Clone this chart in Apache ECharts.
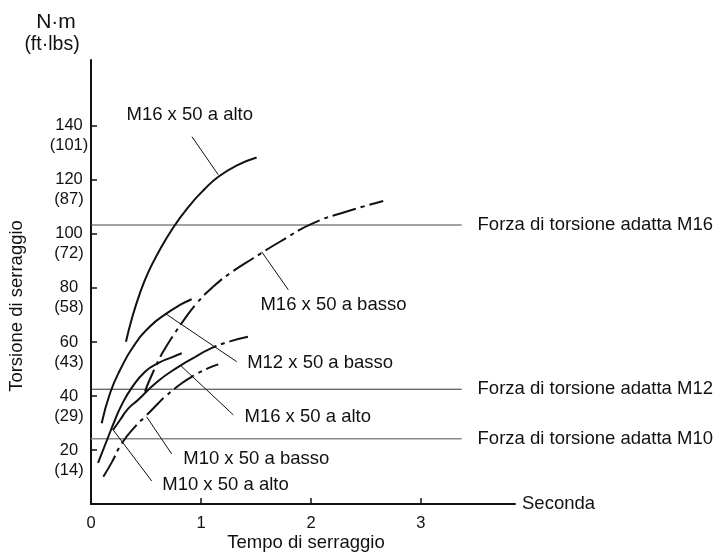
<!DOCTYPE html>
<html>
<head>
<meta charset="utf-8">
<script src="https://cdn.jsdelivr.net/npm/echarts@6/dist/echarts.min.js"></script>
<style>
html,body{margin:0;padding:0;background:#fff;}
#chart{width:717px;height:554px;}
</style>
</head>
<body>
<div id="chart"></div>
<script>
// ---- data (x: seconds, y: N·m) ----
const xTickValues = [1, 2, 3];
const xLabelValues = [0, 1, 2, 3];
const yTickValues = [20, 40, 60, 80, 100, 120, 140];
const yTickFtlbs = ['14', '29', '43', '58', '72', '87', '101'];

const curveM16AltoTop = [[0.318,60.1],[0.373,68.9],[0.445,78.1],[0.518,85.6],[0.6,92.2],[0.745,102.2],[0.9,110.7],[1.036,116.7],[1.155,121.1],[1.327,125.4],[1.506,128.3]];
const curveM16Basso = [[0.491,41.6],[0.521,44.8],[0.582,50.4],[0.627,54.3],[0.673,57.6],[0.748,62.4],[0.839,67.8],[0.961,74.3],[1.112,80.5],[1.264,85.4],[1.475,91.0],[1.718,97.1],[2.021,104.0],[2.325,108.3],[2.657,112.2]];
const curveM12Basso = [[0.097,29.9],[0.173,41.0],[0.264,49.6],[0.385,58.3],[0.536,65.7],[0.688,70.6],[0.809,73.7],[0.915,75.8]];
const curveM16AltoLowSolid = [[0.2,27.4],[0.264,31.1],[0.336,35.2],[0.427,38.5],[0.6,45.2],[0.791,50.7],[0.945,54.4]];
const curveM16AltoLowDash = [[0.945,54.4],[1.1,57.8],[1.264,60.2],[1.427,61.9]];
const curveM10Alto = [[0.064,15.2],[0.157,24.9],[0.218,31.1],[0.279,36.7],[0.37,43.0],[0.491,49.0],[0.612,52.2],[0.734,54.3],[0.825,55.8]];
const curveM10Basso = [[0.112,10.1],[0.19,15.5],[0.279,22.4],[0.415,29.3],[0.491,32.3],[0.612,37.3],[0.673,39.7],[0.825,44.7],[0.945,47.8],[1.066,50.3],[1.157,51.7]];

const refNames = ['Forza di torsione adatta M16', 'Forza di torsione adatta M12', 'Forza di torsione adatta M10'];
const refValues = [103.3, 42.5, 24.2];
const refEndX = 3.37;
const refLabelX = 3.51;

const curveLabelTexts = ['M16 x 50 a alto', 'M16 x 50 a basso', 'M12 x 50 a basso', 'M16 x 50 a alto', 'M10 x 50 a basso', 'M10 x 50 a alto'];
const curveLabelAnchors = [[0.318,144.1],[1.536,73.7],[1.415,52.3],[1.391,32.3],[0.834,16.6],[0.643,7.0]];
const leaderLines = [
  [[0.918,136.0],[1.157,121.9]],
  [[1.794,79.3],[1.552,93.4]],
  [[1.325,52.7],[0.673,70.6]],
  [[1.294,33.0],[0.809,51.5]],
  [[0.734,18.5],[0.506,32.3]],
  [[0.552,8.5],[0.195,27.8]]
];

// ---- chart ----
const FONT = "'Liberation Sans', Arial, Helvetica, sans-serif";
const INK = '#111';
const dashDot = [24, 5, 4, 5];

function curve(name, data, type) {
  return {
    type: 'line', name: name, data: data, smooth: true, showSymbol: false, silent: true,
    lineStyle: { color: INK, width: 2, type: type || 'solid', cap: 'butt' }, z: 3
  };
}

const series = [
  curve('M16 x 50 a alto', curveM16AltoTop),
  curve('M16 x 50 a basso', curveM16Basso, dashDot),
  curve('M12 x 50 a basso', curveM12Basso),
  curve('M16 x 50 a alto (2)', curveM16AltoLowSolid),
  curve('M16 x 50 a alto (2b)', curveM16AltoLowDash, dashDot),
  curve('M10 x 50 a alto', curveM10Alto),
  curve('M10 x 50 a basso', curveM10Basso, dashDot)
];

const refColors = ['#444', '#333', '#888'];
const refWidths = [1, 1, 1.5];
refValues.forEach(function (v, i) {
  series.push({
    type: 'line', name: refNames[i], data: [[0, v], [refEndX, v]], showSymbol: false, silent: true,
    lineStyle: { color: refColors[i], width: refWidths[i] }, z: 2
  });
});

leaderLines.forEach(function (seg, i) {
  series.push({
    type: 'line', name: 'leader' + i, data: seg, showSymbol: false, silent: true,
    lineStyle: { color: INK, width: 1 }, z: 2
  });
});

const labelData = curveLabelTexts.map(function (t, i) {
  return { name: t, value: curveLabelAnchors[i] };
}).concat(refNames.map(function (t, i) {
  return { name: t, value: [refLabelX, refValues[i]] };
}));

series.push({
  type: 'scatter', name: 'labels', data: labelData, symbolSize: 1, silent: true,
  itemStyle: { color: 'rgba(0,0,0,0)', opacity: 1 },
  label: {
    show: true, position: 'right', distance: 0, formatter: function (p) { return p.name; },
    fontSize: 18.5, fontFamily: FONT, color: INK
  }, z: 5
});

const yBase = {
  type: 'value', min: 0, max: 164.4, interval: 20, position: 'left', splitLine: { show: false }
};

const chart = echarts.init(document.getElementById('chart'), null, { renderer: 'canvas' });
chart.setOption({
  animation: false,
  backgroundColor: '#fff',
  grid: { left: 91, top: 60, right: 202, bottom: 50, containLabel: false },
  xAxis: {
    type: 'value', min: 0, max: 3.855, interval: 1,
    name: 'Seconda', nameLocation: 'end', nameGap: 7,
    nameTextStyle: { fontSize: 18.5, fontFamily: FONT, color: INK, verticalAlign: 'middle' },
    axisLine: { show: true, lineStyle: { color: INK, width: 2 } },
    axisTick: { show: true, inside: true, length: 6, customValues: xTickValues, lineStyle: { color: INK, width: 1.5 } },
    axisLabel: { customValues: xLabelValues, fontSize: 16.5, fontFamily: FONT, color: INK, margin: 11 },
    splitLine: { show: false }
  },
  yAxis: [
    Object.assign({}, yBase, {
      axisLine: { show: true, lineStyle: { color: INK, width: 2 } },
      axisTick: { show: true, inside: true, length: 6, customValues: yTickValues, lineStyle: { color: INK, width: 1.5 } },
      axisLabel: {
        customValues: yTickValues, showMinLabel: true, showMaxLabel: true,
        fontSize: 16.5, fontFamily: FONT, color: INK, align: 'center', margin: 22, lineHeight: 18
      }
    }),
    Object.assign({}, yBase, {
      offset: 0,
      axisLine: { show: false },
      axisTick: { show: false },
      axisLabel: {
        customValues: yTickValues, showMinLabel: true, showMaxLabel: true,
        formatter: function (v) { return '(' + yTickFtlbs[yTickValues.indexOf(v)] + ')'; },
        fontSize: 16.5, fontFamily: FONT, color: INK, align: 'center', margin: 22,
        verticalAlign: 'top', lineHeight: 40
      }
    })
  ],
  graphic: [
    { type: 'text', x: 56, y: 22, silent: true, style: { text: 'N·m', font: '21px ' + FONT, fill: INK, align: 'center', verticalAlign: 'middle' } },
    { type: 'text', x: 52, y: 45, silent: true, style: { text: '(ft·lbs)', font: '19.5px ' + FONT, fill: INK, align: 'center', verticalAlign: 'middle' } },
    { type: 'text', x: 17, y: 306, rotation: Math.PI / 2, silent: true, style: { text: 'Torsione di serraggio', font: '18.5px ' + FONT, fill: INK, align: 'center', verticalAlign: 'middle' } },
    { type: 'text', x: 306, y: 543, silent: true, style: { text: 'Tempo di serraggio', font: '18.5px ' + FONT, fill: INK, align: 'center', verticalAlign: 'middle' } }
  ],
  series: series
});
</script>
</body>
</html>
